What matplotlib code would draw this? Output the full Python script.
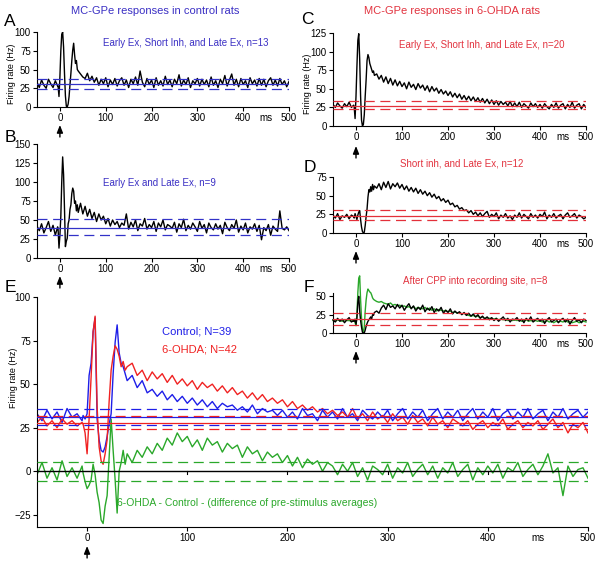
import numpy as np
import matplotlib
matplotlib.use('Agg')
import matplotlib.pyplot as plt

plt.rcParams['font.family'] = ['Liberation Sans Narrow', 'Liberation Sans', 'DejaVu Sans']
REG = ['Liberation Sans', 'DejaVu Sans']

# ---------------- time grid (ms) ----------------
t_pre = np.arange(-50, -4, 5)     # -50 .. -5
t_early = np.arange(-4, 41, 2)    # -4 .. 40
t_late = np.arange(45, 501, 5)    # 45 .. 500
t = np.concatenate([t_pre, t_early, t_late])

x_ticks = [0, 100, 200, 300, 400, 500]

# ---------------- Panel A (control, n=13) ----------------
a_pre = [33, 26, 36, 29, 25, 37, 31, 26, 35, 28]
a_early = [28, 14, 40, 75, 97, 100, 80, 45, 15, 1, 0, 4, 14, 30, 45, 62, 76, 85, 70, 58, 62, 50, 48]
a_late = [44, 40, 38, 45, 35, 41, 33, 39, 29, 37,
          31, 39, 27, 36, 30, 38, 28, 35, 39, 29,
          36, 26, 37, 31, 40, 29, 48, 33, 27, 38,
          30, 36, 26, 39, 29, 35, 28, 41, 30, 36,
          27, 37, 31, 43, 28, 36, 30, 39, 26, 35,
          31, 38, 28, 37, 30, 36, 27, 40, 29, 35,
          26, 37, 31, 42, 28, 36, 44, 29, 37, 27,
          38, 30, 35, 26, 39, 31, 36, 28, 38, 29,
          37, 27, 35, 39, 29, 36, 28, 38, 30, 35,
          27, 34]
a_ref = [30.7, 37.8, 24.4]   # mean, upper, lower

# ---------------- Panel B (control, n=9) ----------------
b_pre = [42, 36, 45, 33, 40, 48, 35, 43, 30, 41]
b_early = [38, 13, 30, 55, 100, 133, 110, 65, 15, 22, 26, 45, 50, 64, 70, 85, 92, 88, 72, 75, 62, 70, 60]
b_late = [72, 58, 68, 55, 64, 52, 60, 48, 58, 50,
          55, 45, 52, 42, 50, 44, 48, 40, 46, 43,
          58, 38, 47, 41, 50, 36, 45, 42, 52, 38,
          44, 40, 48, 35, 46, 41, 50, 37, 44, 42,
          39, 47, 34, 45, 40, 51, 36, 43, 38, 46,
          41, 35, 48, 39, 44, 33, 46, 40, 37, 45,
          38, 43, 32, 47, 40, 36, 44, 39, 50, 34,
          42, 37, 46, 33, 41, 38, 45, 35, 43, 24,
          40, 36, 44, 30, 42, 38, 35, 62, 39, 37,
          41, 36]
b_ref = [39.7, 50.7, 30.0]

# ---------------- Panel C (6-OHDA, n=20) ----------------
c_pre = [29, 25, 31, 27, 24, 30, 26, 32, 25, 28]
c_early = [26, 10, 40, 80, 115, 124, 90, 40, 8, 0, 2, 15, 40, 62, 88, 96, 92, 84, 80, 76, 72, 74, 68]
c_late = [70, 63, 68, 59, 66, 57, 64, 55, 62, 54,
          60, 53, 58, 50, 59, 52, 56, 49, 57, 51,
          55, 48, 54, 46, 53, 47, 51, 44, 49, 43,
          47, 41, 46, 39, 44, 38, 43, 36, 41, 35,
          40, 34, 39, 33, 38, 32, 37, 31, 36, 30,
          35, 29, 34, 28, 33, 29, 32, 27, 33, 26,
          31, 26, 32, 25, 30, 27, 24, 31, 26, 30,
          25, 29, 24, 30, 26, 23, 29, 25, 31, 24,
          28, 30, 23, 29, 25, 32, 24, 28, 30, 23,
          29, 25]
c_ref = [27.0, 33.7, 22.5]

# ---------------- Panel D (6-OHDA, n=12) ----------------
d_pre = [24, 20, 26, 18, 23, 21, 25, 19, 24, 22]
d_early = [20, 26, 22, 18, 24, 28, 30, 18, 8, 2, 0, 1, 10, 22, 32, 48, 58, 55, 62, 56, 65, 58, 63]
d_late = [60, 66, 58, 68, 61, 69, 59, 66, 62, 67,
          60, 65, 58, 63, 56, 61, 55, 60, 53, 58,
          52, 56, 50, 54, 48, 52, 46, 49, 43, 46,
          41, 44, 38, 40, 35, 37, 32, 34, 30, 31,
          27, 30, 25, 28, 23, 27, 22, 26, 29, 21,
          25, 22, 27, 19, 24, 21, 26, 20, 23, 18,
          24, 21, 27, 20, 25, 22, 19, 26, 21, 24,
          20, 25, 22, 28, 19, 24, 21, 26, 20, 23,
          25, 19, 24, 27, 21, 23, 26, 20, 24, 22,
          19, 21]
d_ref = [23.4, 30.4, 16.8]

# ---------------- Panel F (after CPP, n=8) ----------------
f_pre = [18, 15, 20, 16, 19, 14, 18, 21, 15, 17]
f_early = [16, 19, 12, 20, 42, 50, 30, 17, 8, 1, 0, 0, 4, 9, 13, 16, 18, 20, 22, 19, 25, 24, 28]
f_late = [30, 27, 34, 38, 32, 40, 35, 37, 33, 39,
          34, 38, 31, 36, 40, 33, 37, 30, 35, 32,
          38, 29, 34, 31, 36, 28, 33, 30, 35, 27,
          31, 28, 33, 26, 30, 27, 29, 25, 28, 24,
          27, 23, 26, 22, 25, 20, 23, 19, 22, 18,
          21, 17, 20, 16, 19, 22, 17, 20, 15, 19,
          18, 21, 16, 19, 14, 20, 17, 22, 15, 18,
          20, 16, 19, 13, 18, 21, 15, 17, 19, 14,
          18, 20, 15, 19, 12, 17, 21, 16, 18, 14,
          19, 17]
fg_pre = [17, 16, 18, 17, 16, 18, 17, 17, 16, 18]
fg_early = [17, 14, 10, 25, 55, 75, 78, 45, 20, 5, 1, 8, 30, 45, 55, 60, 58, 56, 55, 52, 48, 46, 45]
fg_late = [43, 42, 43, 41, 40, 39, 41, 38, 39, 37,
           38, 36, 37, 35, 36, 34, 36, 33, 35, 34,
           33, 35, 32, 34, 31, 33, 30, 32, 31, 30,
           31, 29, 30, 28, 29, 27, 28, 26, 27, 25,
           24, 23, 24, 22, 23, 21, 22, 20, 21, 20,
           20, 19, 20, 18, 19, 18, 19, 17, 18, 17,
           18, 17, 18, 16, 17, 18, 16, 17, 16, 17,
           16, 17, 15, 16, 17, 15, 16, 14, 16, 15,
           16, 15, 17, 15, 16, 14, 15, 16, 14, 15,
           16, 15]
f_ref = [18.6, 26.8, 11.4]

# ---------------- Panel E (population averages) ----------------
eb_pre = [33, 29, 35, 30, 34, 28, 36, 31, 33, 29]
eb_early = [32, 30, 33, 55, 62, 80, 88, 30, 18, 12, 11, 14, 20, 27, 33, 56, 74, 84, 68, 62, 60, 56, 52]
eb_late = [55, 48, 52, 45, 47, 43, 46, 41, 44, 40,
           43, 39, 42, 38, 41, 37, 40, 36, 39, 37,
           38, 35, 37, 34, 38, 33, 36, 34, 35, 32,
           35, 31, 34, 30, 36, 32, 33, 29, 35, 31,
           34, 30, 36, 31, 33, 29, 35, 32, 30, 34,
           31, 35, 29, 33, 36, 30, 34, 31, 35, 29,
           33, 36, 30, 34, 31, 35, 29, 33, 36, 30,
           34, 31, 36, 29, 33, 35, 30, 34, 31, 36,
           30, 33, 35, 29, 34, 31, 36, 30, 33, 35,
           31, 34]
er_pre = [28, 31, 26, 29, 25, 30, 27, 29, 26, 28]
er_early = [27, 22, 10, 30, 54, 80, 89, 37, 14, 6, 4, 10, 18, 40, 58, 66, 72, 70, 66, 60, 63, 58, 60]
er_late = [62, 55, 58, 52, 57, 53, 56, 51, 55, 50,
           53, 49, 52, 47, 51, 48, 50, 46, 49, 45,
           48, 44, 46, 42, 45, 41, 44, 40, 42, 39,
           41, 37, 40, 36, 38, 35, 37, 34, 36, 33,
           35, 32, 34, 31, 36, 30, 33, 29, 34, 30,
           32, 28, 33, 29, 31, 27, 32, 28, 30, 26,
           31, 27, 29, 25, 30, 28, 26, 29, 24, 27,
           29, 25, 28, 26, 30, 24, 27, 29, 25, 28,
           26, 29, 24, 27, 30, 25, 28, 22, 27, 25,
           28, 22]
eg_pre = [-2, 5, -4, 2, -5, 6, -3, 2, -4, 3]
eg_early = [-1, -6, -10, -8, -5, 4, -2, -12, -18, -28, -30, -20, -14, 8, 30, 12, -5, -24, 0, 5, 12, 4, 10]
eg_late = [5, 12, 8, 14, 10, 16, 12, 19, 15, 22,
           17, 20, 14, 18, 12, 19, 15, 17, 11, 16,
           13, 15, 8, 14, 10, 12, 6, 11, 8, 10,
           5, 9, 3, 8, 2, 7, 4, 6, 0, 5,
           3, -2, 4, 0, 5, -3, 2, -5, 3, 1,
           -2, 4, -4, 2, -1, 5, -3, 1, 4, -2,
           3, -4, 2, -1, 5, -3, 1, 4, -5, 2,
           -2, 3, -1, 4, -4, 2, 0, 5, -3, 1,
           4, -2, 3, 10, -1, 2, -14, 3, -3, 1,
           2, -4]
eb_ref = [31.4, 36.0, 26.8]
er_ref = [27.8, 31.6, 24.0]
eg_ref = [5.4, -5.4]

A = np.array(a_pre + a_early + a_late)
B = np.array(b_pre + b_early + b_late)
C = np.array(c_pre + c_early + c_late)
D = np.array(d_pre + d_early + d_late)
F = np.array(f_pre + f_early + f_late)
FG = np.array(fg_pre + fg_early + fg_late)
EB = np.array(eb_pre + eb_early + eb_late)
ER = np.array(er_pre + er_early + er_late)
EG = np.array(eg_pre + eg_early + eg_late)

# ---------------- style ----------------
W, H = 600, 563
BLUE_T = '#3b30c4'
RED_T = '#e2333f'
BLUE_L = '#3232c8'
RED_L = '#e3303a'
E_BLUE = '#1e1ee8'
E_RED = '#f02222'
E_GREEN = '#2aa82a'
DASH = (0, (8, 4.5))
TICK_FS = 7

fig = plt.figure(figsize=(W / 100, H / 100), dpi=100)


def rect(l, r, top, bot):
    return [l / W, 1 - bot / H, (r - l) / W, (bot - top) / H]


def fxy(px, py):
    return px / W, 1 - py / H


def style_ax(ax, ylim, yticks):
    ax.set_facecolor('none')
    ax.set_xlim(-50, 500)
    ax.set_ylim(*ylim)
    ax.set_xticks(x_ticks)
    ax.set_yticks(yticks)
    for s in ['top', 'right']:
        ax.spines[s].set_visible(False)
    for s in ['left', 'bottom']:
        ax.spines[s].set_linewidth(0.8)
    ax.tick_params(direction='out', length=3, width=0.8, labelsize=TICK_FS, pad=1.5)
    ax.annotate('ms', xy=(450, 0), xycoords=ax.get_xaxis_transform(),
                xytext=(0, -4.5), textcoords='offset points', ha='center', va='top',
                fontsize=TICK_FS)


def arrow(ax, tip_py, tail_py):
    pos = ax.get_position()
    tip = ((1 - tip_py / H) - pos.y0) / pos.height
    tail = ((1 - tail_py / H) - pos.y0) / pos.height
    ax.annotate('', xy=(0, tip), xytext=(0, tail),
                xycoords=('data', 'axes fraction'), textcoords=('data', 'axes fraction'),
                arrowprops=dict(arrowstyle='-|>,head_length=0.45,head_width=0.18',
                                color='k', lw=1.0, shrinkA=0, shrinkB=0, mutation_scale=10),
                annotation_clip=False)


def ref_lines(ax, ref, color):
    ax.axhline(ref[0], color=color, lw=0.9, zorder=3)
    ax.axhline(ref[1], color=color, lw=0.9, ls=DASH, zorder=3)
    ax.axhline(ref[2], color=color, lw=0.9, ls=DASH, zorder=3)


# ---- E (drawn first so F sits on top) ----
axE = fig.add_axes(rect(37, 588, 297, 527))
style_ax(axE, (-32, 100), [-25, 0, 25, 50, 75, 100])
axE.plot(t, EG, color=E_GREEN, lw=1.0, zorder=2)
axE.plot(t, EB, color=E_BLUE, lw=1.0, zorder=2)
axE.plot(t, ER, color=E_RED, lw=1.0, zorder=2)
axE.axhline(0, color='k', lw=1.0, zorder=3)
for xt in x_ticks[1:]:
    axE.plot([xt, xt], [0, -1.8], color='k', lw=0.8, zorder=3)
for r, c in [(eb_ref, E_BLUE), (er_ref, E_RED)]:
    axE.axhline(r[0], color=c, lw=0.9, zorder=3)
    axE.axhline(r[1], color=c, lw=0.9, ls=DASH, zorder=3)
    axE.axhline(r[2], color=c, lw=0.9, ls=DASH, zorder=3)
for v in eg_ref:
    axE.axhline(v, color=E_GREEN, lw=0.9, ls=DASH, zorder=3)
axE.text(75, 80, 'Control; N=39', color=E_BLUE, fontsize=8, family=REG, va='center')
axE.text(75, 70, '6-OHDA; N=42', color=E_RED, fontsize=8, family=REG, va='center')
axE.text(160, -18, '6-OHDA - Control - (difference of pre-stimulus averages)',
         color=E_GREEN, fontsize=7.5, family=REG, ha='center', va='center')
arrow(axE, 546, 558)

# ---- A ----
axA = fig.add_axes(rect(37, 289, 32, 107))
style_ax(axA, (0, 100), [0, 25, 50, 75, 100])
axA.plot(t, A, color='k', lw=1.0, zorder=2)
ref_lines(axA, a_ref, BLUE_L)
arrow(axA, 125, 137)

# ---- B ----
axB = fig.add_axes(rect(37, 289, 144, 258))
style_ax(axB, (0, 150), [0, 25, 50, 75, 100, 125, 150])
axB.plot(t, B, color='k', lw=1.0, zorder=2)
ref_lines(axB, b_ref, BLUE_L)
arrow(axB, 276, 288)

# ---- C ----
axC = fig.add_axes(rect(333, 586, 33, 126))
style_ax(axC, (0, 125), [0, 25, 50, 75, 100, 125])
axC.plot(t, C, color='k', lw=1.0, zorder=2)
ref_lines(axC, c_ref, RED_L)
arrow(axC, 146, 158)

# ---- D ----
axD = fig.add_axes(rect(333, 586, 177, 233))
style_ax(axD, (0, 75), [0, 25, 50, 75])
axD.plot(t, D, color='k', lw=1.0, zorder=2)
ref_lines(axD, d_ref, RED_L)
arrow(axD, 251, 263)

# ---- F ----
axF = fig.add_axes(rect(333, 586, 292.7, 333))
style_ax(axF, (0, 55), [0, 25, 50])
axF.plot(t, FG, color=E_GREEN, lw=1.0, zorder=2, clip_on=False)
axF.plot(t, F, color='k', lw=1.0, zorder=2, clip_on=False)
ref_lines(axF, f_ref, RED_L)
arrow(axF, 351, 363)

# ---- titles, annotations, letters, labels ----
fig.text(*fxy(155, 11), 'MC-GPe responses in control rats', color=BLUE_T,
         fontsize=8, family=REG, ha='center', va='center')
fig.text(*fxy(452, 11), 'MC-GPe responses in 6-OHDA rats', color=RED_T,
         fontsize=8, family=REG, ha='center', va='center')
fig.text(*fxy(186, 43), 'Early Ex, Short Inh, and Late Ex, n=13', color=BLUE_T,
         fontsize=7, family=REG, ha='center', va='center')
fig.text(*fxy(159, 183), 'Early Ex and Late Ex, n=9', color=BLUE_T,
         fontsize=7, family=REG, ha='center', va='center')
fig.text(*fxy(482, 45), 'Early Ex, Short Inh, and Late Ex, n=20', color=RED_T,
         fontsize=7, family=REG, ha='center', va='center')
fig.text(*fxy(462, 164), 'Short inh, and Late Ex, n=12', color=RED_T,
         fontsize=7, family=REG, ha='center', va='center')
fig.text(*fxy(475, 281), 'After CPP into recording site, n=8', color=RED_T,
         fontsize=7, family=REG, ha='center', va='center')

for lab, px, py in [('A', 10, 22), ('B', 10, 137), ('C', 307, 19),
                    ('D', 310, 167), ('E', 10, 287), ('F', 309, 287)]:
    fig.text(*fxy(px, py), lab, fontsize=12.5, family=REG, ha='center', va='center')

for px, py in [(12, 74), (308, 84), (13, 378)]:
    fig.text(*fxy(px, py), 'Firing rate (Hz)', fontsize=6.5, rotation=90,
             ha='center', va='center')

fig.savefig('out.png', dpi=100)
